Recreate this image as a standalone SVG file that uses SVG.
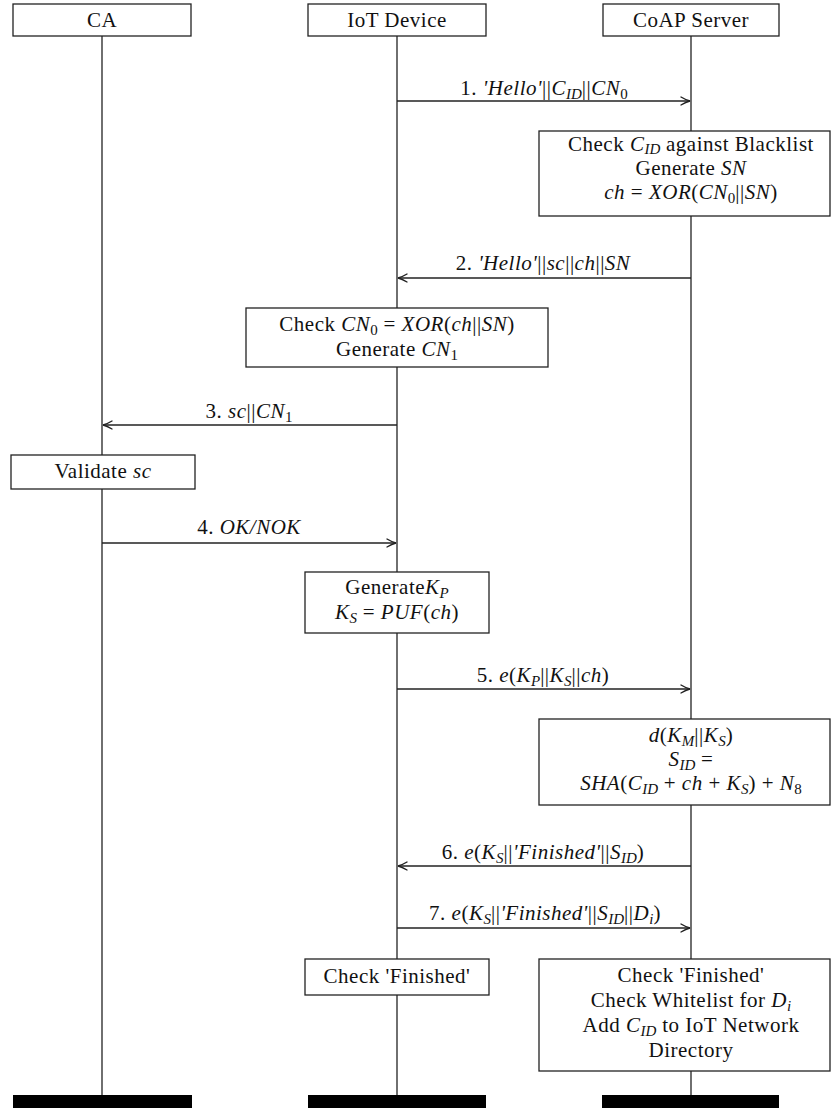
<svg xmlns="http://www.w3.org/2000/svg" width="831" height="1108" viewBox="0 0 831 1108">
<style>
.t{font-family:"Liberation Serif","Times New Roman",serif;font-size:21px;letter-spacing:0.5px;fill:#111;text-anchor:middle}
.i{font-style:italic}
.s{font-size:15px;letter-spacing:0}
.box{fill:#fff;stroke:#222;stroke-width:1.3}
.life{stroke:#222;stroke-width:1.3;fill:none}
.msg{stroke:#222;stroke-width:1.3;fill:none;marker-end:url(#arr)}
.bar{fill:#000}
</style>
<defs>
<marker id="arr" viewBox="-10 -5 11 10" refX="0" refY="0" markerWidth="11" markerHeight="10" markerUnits="userSpaceOnUse" orient="auto">
<path d="M-9,-4 Q-4,-1 0,0 Q-4,1 -9,4" fill="none" stroke="#222" stroke-width="1.4" stroke-linecap="round"/>
</marker>
</defs>

<g id="lifelines">
<line class="life" x1="102" y1="36" x2="102" y2="1095"/>
<line class="life" x1="397" y1="36" x2="397" y2="1095"/>
<line class="life" x1="691" y1="36" x2="691" y2="1095"/>
</g>

<g id="participant-ca">
<rect class="box" x="13" y="4" width="178" height="32"/>
<text class="t" x="102" y="27">CA</text>
<rect class="bar" x="13" y="1095" width="179" height="13"/>
</g>
<g id="participant-iot">
<rect class="box" x="308" y="4" width="178" height="32"/>
<text class="t" x="397" y="27">IoT Device</text>
<rect class="bar" x="308" y="1095" width="178" height="13"/>
</g>
<g id="participant-coap">
<rect class="box" x="603" y="4" width="176" height="32"/>
<text class="t" x="691" y="27">CoAP Server</text>
<rect class="bar" x="602" y="1095" width="177" height="13"/>
</g>

<g id="connectors">
<line class="msg" x1="397" y1="101" x2="690" y2="101"/>
<line class="msg" x1="691" y1="278" x2="398" y2="278"/>
<line class="msg" x1="397" y1="425" x2="103" y2="425"/>
<line class="msg" x1="102" y1="543" x2="396" y2="543"/>
<line class="msg" x1="397" y1="689" x2="690" y2="689"/>
<line class="msg" x1="691" y1="866" x2="398" y2="866"/>
<line class="msg" x1="397" y1="928" x2="690" y2="928"/>
<text class="t" x="544" y="95">1. <tspan class="i">'Hello'</tspan>||<tspan class="i">C</tspan><tspan class="i s" baseline-shift="-4">ID</tspan>||<tspan class="i">CN</tspan><tspan class="s" baseline-shift="-4">0</tspan></text>
<text class="t" x="543" y="270">2. <tspan class="i">'Hello'</tspan>||<tspan class="i">sc</tspan>||<tspan class="i">ch</tspan>||<tspan class="i">SN</tspan></text>
<text class="t" x="249" y="418">3. <tspan class="i">sc</tspan>||<tspan class="i">CN</tspan><tspan class="s" baseline-shift="-4">1</tspan></text>
<text class="t" x="249" y="534">4. <tspan class="i">OK/NOK</tspan></text>
<text class="t" x="543" y="682">5. <tspan class="i">e</tspan>(<tspan class="i">K</tspan><tspan class="i s" baseline-shift="-4">P</tspan>||<tspan class="i">K</tspan><tspan class="i s" baseline-shift="-4">S</tspan>||<tspan class="i">ch</tspan>)</text>
<text class="t" x="543" y="859">6. <tspan class="i">e</tspan>(<tspan class="i">K</tspan><tspan class="i s" baseline-shift="-4">S</tspan>||<tspan class="i">'Finished'</tspan>||<tspan class="i">S</tspan><tspan class="i s" baseline-shift="-4">ID</tspan>)</text>
<text class="t" x="545" y="920">7. <tspan class="i">e</tspan>(<tspan class="i">K</tspan><tspan class="i s" baseline-shift="-4">S</tspan>||<tspan class="i">'Finished'</tspan>||<tspan class="i">S</tspan><tspan class="i s" baseline-shift="-4">ID</tspan>||<tspan class="i">D</tspan><tspan class="i s" baseline-shift="-4">i</tspan>)</text>
</g>

<g id="box-check-cid">
<rect class="box" x="539" y="131" width="291" height="85"/>
<text class="t" x="691" y="151">Check <tspan class="i">C</tspan><tspan class="i s" baseline-shift="-3">ID</tspan> against Blacklist</text>
<text class="t" x="691" y="175">Generate <tspan class="i">SN</tspan></text>
<text class="t" x="691" y="199"><tspan class="i">ch</tspan> = <tspan class="i">XOR</tspan>(<tspan class="i">CN</tspan><tspan class="s" baseline-shift="-4">0</tspan>||<tspan class="i">SN</tspan>)</text>
</g>

<g id="box-check-cn0">
<rect class="box" x="246" y="308" width="302" height="59"/>
<text class="t" x="397" y="331">Check <tspan class="i">CN</tspan><tspan class="s" baseline-shift="-4">0</tspan> = <tspan class="i">XOR</tspan>(<tspan class="i">ch</tspan>||<tspan class="i">SN</tspan>)</text>
<text class="t" x="397" y="356">Generate <tspan class="i">CN</tspan><tspan class="s" baseline-shift="-4">1</tspan></text>
</g>

<g id="box-validate">
<rect class="box" x="11" y="455" width="184" height="34"/>
<text class="t" x="103" y="478">Validate <tspan class="i">sc</tspan></text>
</g>

<g id="box-generate-kp">
<rect class="box" x="305" y="572" width="184" height="61"/>
<text class="t" x="397" y="594">Generate<tspan class="i">K</tspan><tspan class="i s" baseline-shift="-4">P</tspan></text>
<text class="t" x="397" y="619"><tspan class="i">K</tspan><tspan class="i s" baseline-shift="-4">S</tspan> = <tspan class="i">PUF</tspan>(<tspan class="i">ch</tspan>)</text>
</g>

<g id="box-decrypt">
<rect class="box" x="539" y="719" width="291" height="86"/>
<text class="t" x="691" y="742"><tspan class="i">d</tspan>(<tspan class="i">K</tspan><tspan class="i s" baseline-shift="-4">M</tspan>||<tspan class="i">K</tspan><tspan class="i s" baseline-shift="-4">S</tspan>)</text>
<text class="t" x="691" y="766"><tspan class="i">S</tspan><tspan class="i s" baseline-shift="-4">ID</tspan> =</text>
<text class="t" x="691" y="790"><tspan class="i">SHA</tspan>(<tspan class="i">C</tspan><tspan class="i s" baseline-shift="-4">ID</tspan> + <tspan class="i">ch</tspan> + <tspan class="i">K</tspan><tspan class="i s" baseline-shift="-4">S</tspan>) + <tspan class="i">N</tspan><tspan class="s" baseline-shift="-4">8</tspan></text>
</g>

<g id="box-check-finished-iot">
<rect class="box" x="305" y="959" width="184" height="36"/>
<text class="t" x="397" y="983">Check 'Finished'</text>
</g>

<g id="box-check-finished-server">
<rect class="box" x="539" y="959" width="291" height="112"/>
<text class="t" x="691" y="982">Check 'Finished'</text>
<text class="t" x="691" y="1007">Check Whitelist for <tspan class="i">D</tspan><tspan class="i s" baseline-shift="-4">i</tspan></text>
<text class="t" x="691" y="1032">Add <tspan class="i">C</tspan><tspan class="i s" baseline-shift="-4">ID</tspan> to IoT Network</text>
<text class="t" x="691" y="1057">Directory</text>
</g>
</svg>
